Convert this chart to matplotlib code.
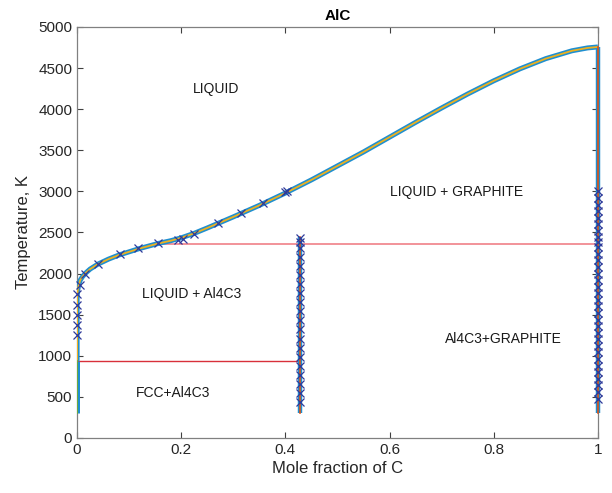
import matplotlib
matplotlib.use("Agg")
import matplotlib.pyplot as plt

plt.rcParams['font.family'] = ['Liberation Sans', 'DejaVu Sans']

# Liquidus curve (mole fraction C, temperature K)
liq_x = [0, 0, 0.001, 0.003, 0.006, 0.01, 0.017, 0.025, 0.04, 0.06, 0.08, 0.10,
         0.12, 0.155, 0.18, 0.20, 0.225, 0.25, 0.30, 0.35, 0.40, 0.45, 0.50, 0.55,
         0.60, 0.65, 0.70, 0.75, 0.80, 0.85, 0.90, 0.95, 0.98, 1.0]
liq_T = [937, 1700, 1790, 1860, 1920, 1960, 2010, 2055, 2115, 2175, 2225, 2265,
         2305, 2365, 2400, 2435, 2490, 2555, 2690, 2830, 2980, 3140, 3310, 3480,
         3660, 3840, 4015, 4185, 4345, 4490, 4615, 4710, 4745, 4757]

# Pure Al segment (FCC region)
al_x = [0, 0]
al_T = [300, 937]

# Al4C3 line compound
al4c3_x = [0.4286, 0.4286]
al4c3_T = [300, 2440]

# Graphite
gr_x = [1, 1]
gr_T = [300, 4757]

# Invariant lines
eut_x = [0.155, 1.0]
eut_T = [2360, 2360]
low_x = [0, 0.4286]
low_T = [937, 937]

# Experimental points
exp_liq_x = [0.005, 0.016, 0.04, 0.083, 0.117, 0.155, 0.194, 0.204, 0.225, 0.27,
             0.315, 0.357, 0.399, 0.403]
exp_liq_T = [1860, 1990, 2117, 2238, 2311, 2372, 2409, 2420, 2478, 2611,
             2737, 2859, 2993, 3000]
exp_al_x = [0, 0, 0, 0, 0]
exp_al_T = [1250, 1370, 1500, 1620, 1750]
exp_c_x = [0.4286] * 18
exp_c_T = [440, 550, 660, 770, 880, 990, 1100, 1210, 1320, 1430, 1540, 1650,
           1760, 1870, 1980, 2090, 2200, 2310]
exp_c_x2 = [0.4286, 0.4286]
exp_c_T2 = [2380, 2430]
exp_g_x = [1.0] * 33
exp_g_T = [480, 560, 640, 720, 800, 880, 960, 1040, 1120, 1200, 1280, 1360,
           1440, 1520, 1600, 1680, 1760, 1840, 1920, 2000, 2080, 2160, 2240,
           2320, 2380, 2440, 2520, 2600, 2680, 2760, 2840, 2920, 3000]

labels = [("LIQUID", 0.267, 4250), ("LIQUID + GRAPHITE", 0.729, 2990),
          ("LIQUID + Al4C3", 0.219, 1752), ("Al4C3+GRAPHITE", 0.818, 1204),
          ("FCC+Al4C3", 0.184, 547)]

blue = '#1f8fd0'
yellow = '#EDB120'
orange = '#D95319'
green = '#77AC30'
mk = '#2E3A9A'

fig = plt.figure(figsize=(6.12, 4.93), dpi=100)
ax = fig.add_axes([0.126, 0.1116, 0.851, 0.8337])

# invariant lines
ax.plot(eut_x, eut_T, color='#F08088', lw=1.2, zorder=2)
ax.plot(low_x, low_T, color='#D8303A', lw=1.0, zorder=2)

# phase boundaries
ax.plot(liq_x, liq_T, color=blue, lw=3.6, zorder=3, solid_capstyle='butt')
ax.plot(liq_x, liq_T, color=yellow, lw=1.3, zorder=4)
ax.plot(al_x, al_T, color=blue, lw=3.6, zorder=3, solid_capstyle='butt')
ax.plot(al_x, al_T, color=green, lw=1.3, zorder=4)
ax.plot(al4c3_x, al4c3_T, color=blue, lw=3.2, zorder=3, solid_capstyle='butt')
ax.plot(al4c3_x, al4c3_T, color=orange, lw=1.2, zorder=4)
ax.plot(gr_x, gr_T, color=blue, lw=3.2, zorder=3, solid_capstyle='butt', clip_on=False)
ax.plot(gr_x, gr_T, color=orange, lw=1.2, zorder=4, clip_on=False)

# experimental markers
for xs, ts in [(exp_liq_x, exp_liq_T), (exp_al_x, exp_al_T), (exp_c_x, exp_c_T),
               (exp_c_x2, exp_c_T2), (exp_g_x, exp_g_T)]:
    ax.plot(xs, ts, linestyle='none', marker='x', color=mk, ms=6, mew=0.9,
            zorder=5, clip_on=False)

for txt, x, y in labels:
    ax.text(x, y, txt, ha='center', va='center', fontsize=10, color='#1a1a1a')

ax.set_xlim(0, 1)
ax.set_ylim(0, 5000)
ax.set_xticks([0, 0.2, 0.4, 0.6, 0.8, 1])
ax.set_xticklabels(['0', '0.2', '0.4', '0.6', '0.8', '1'])
ax.set_yticks(range(0, 5001, 500))
ax.tick_params(direction='in', top=True, right=True, length=4, width=0.8,
               colors='#404040', labelsize=11, labelcolor='#262626')
for s in ax.spines.values():
    s.set_color('#808080')
    s.set_linewidth(0.9)
ax.set_xlabel('Mole fraction of C', fontsize=12, color='#262626', labelpad=3)
ax.set_ylabel('Temperature, K', fontsize=12, color='#262626', labelpad=5)
ax.set_title('AlC', fontsize=11, fontweight='bold', color='#000000', pad=5)

fig.savefig('out.png', dpi=100)
